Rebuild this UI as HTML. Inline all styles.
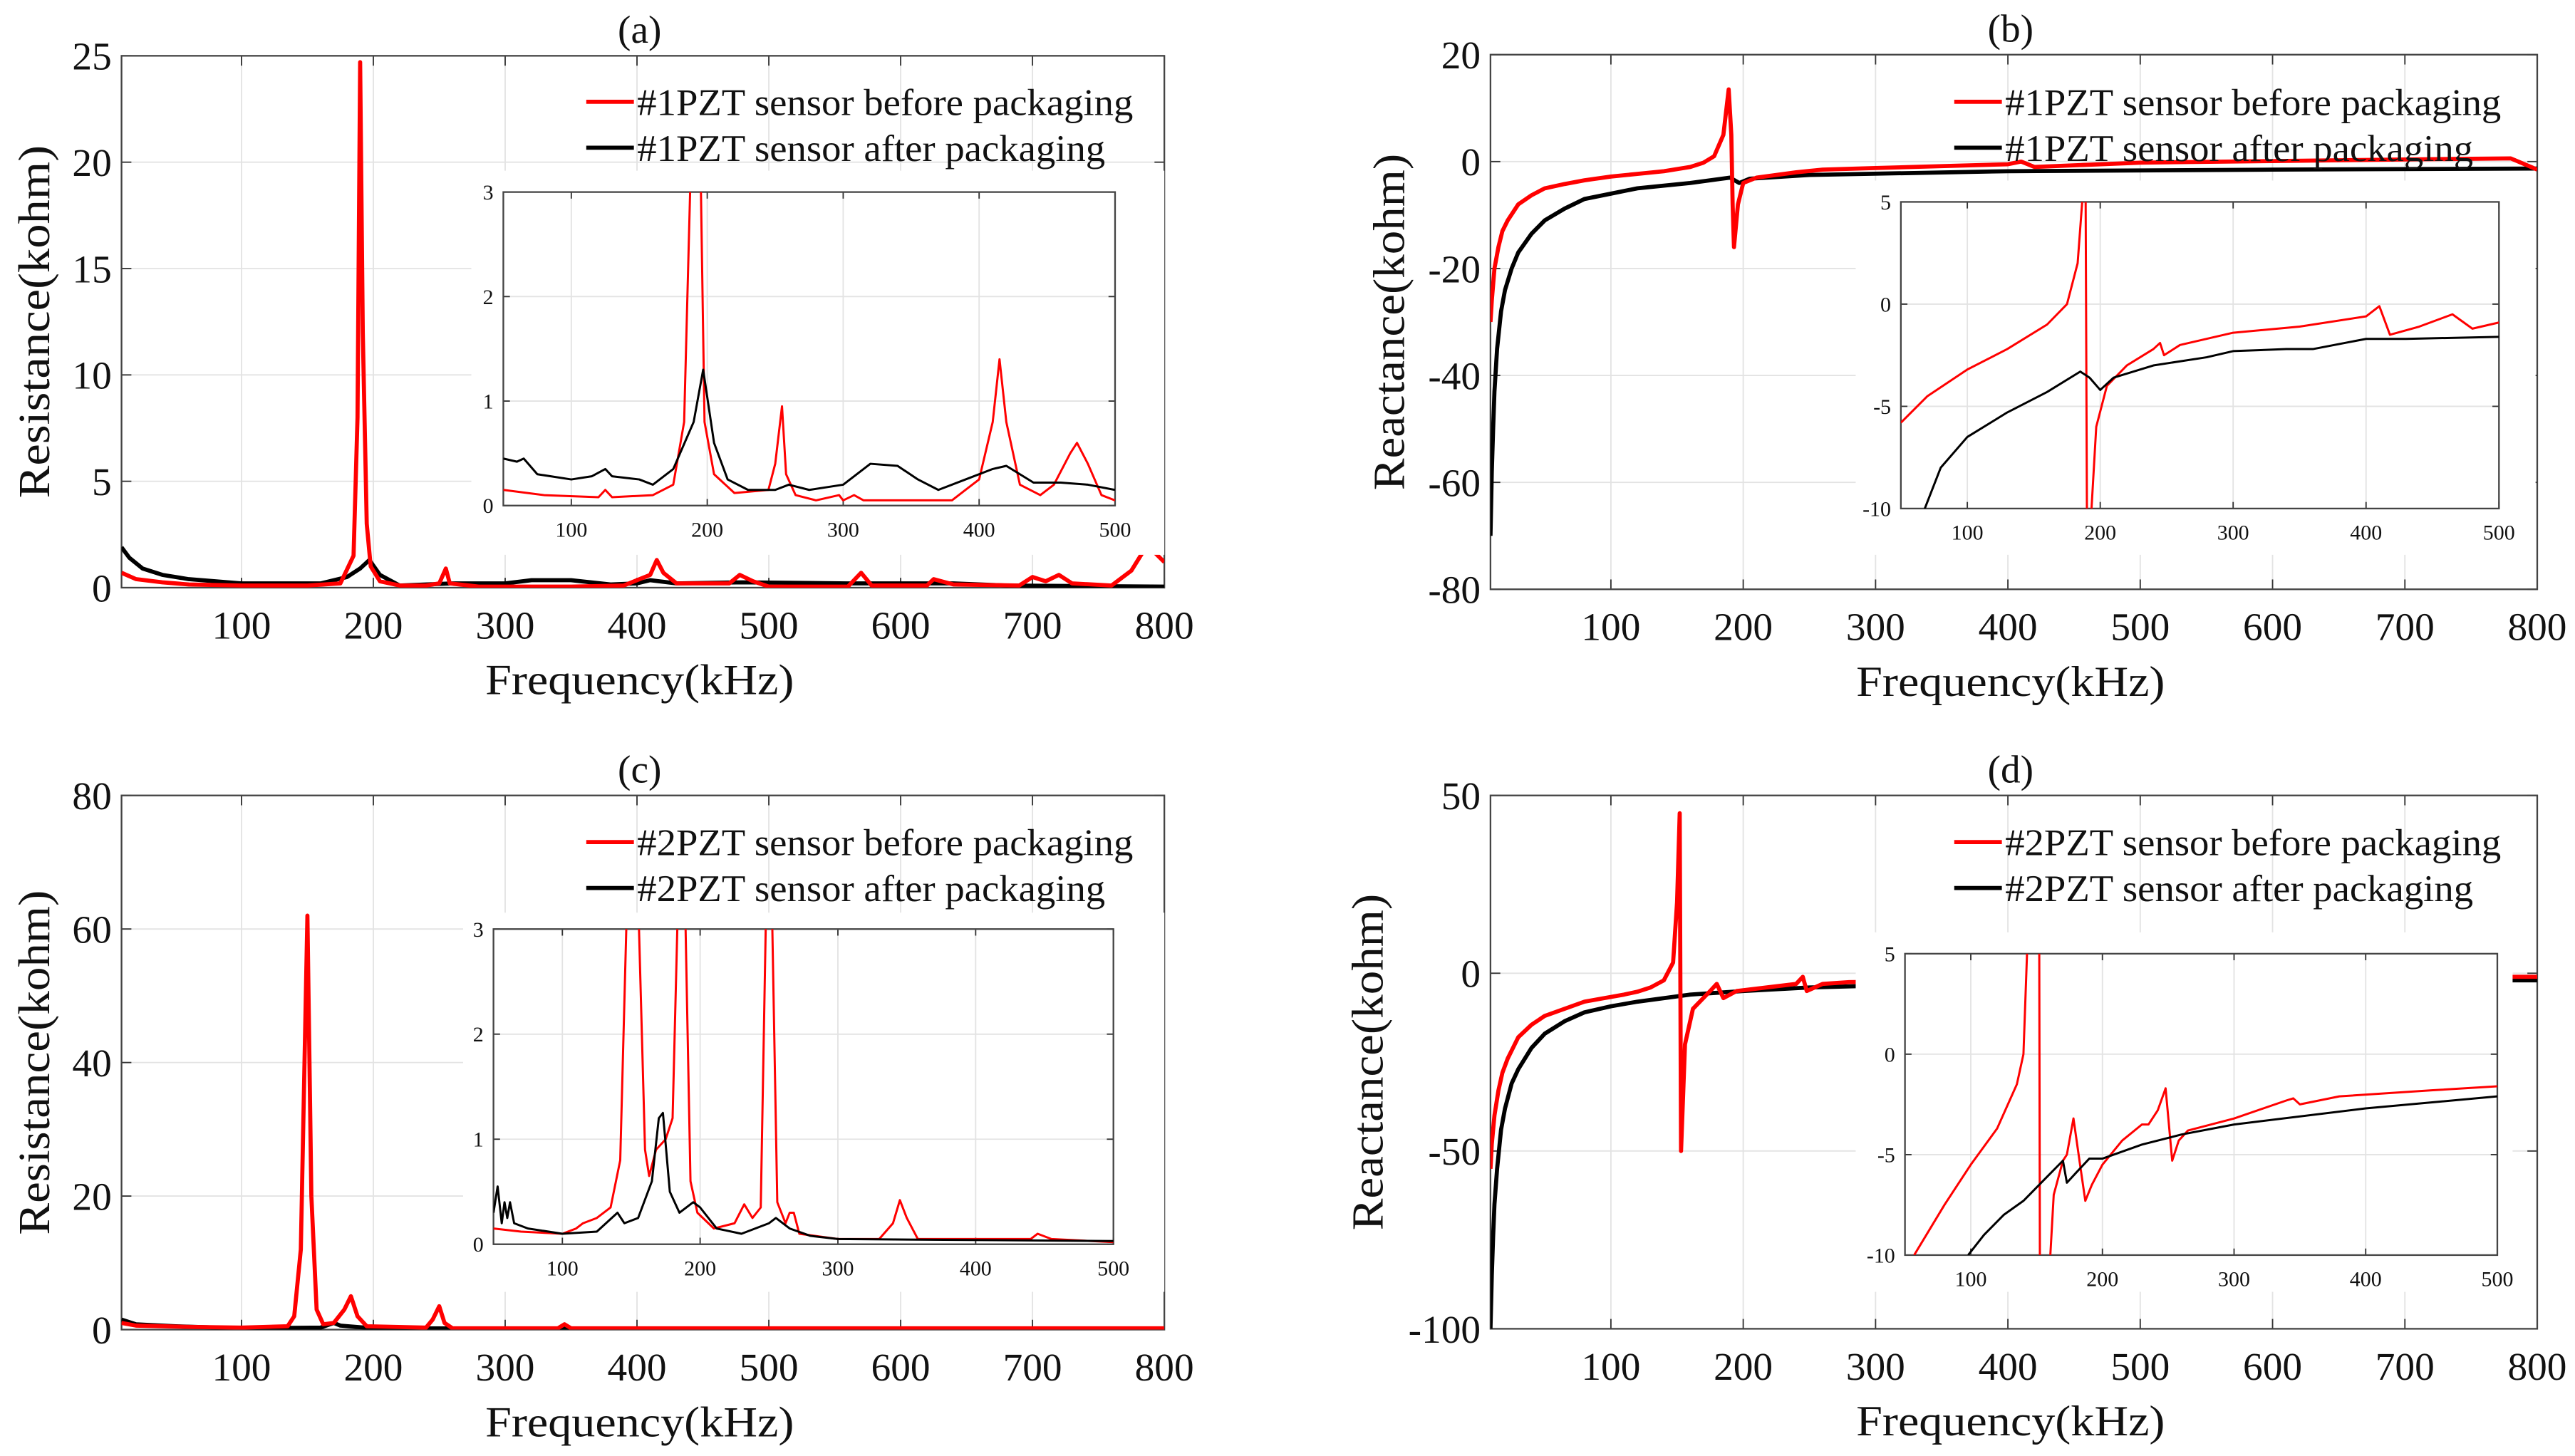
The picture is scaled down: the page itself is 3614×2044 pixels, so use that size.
<!DOCTYPE html>
<html><head><meta charset="utf-8"><title>PZT impedance</title>
<style>html,body{margin:0;padding:0;background:#fff;}svg{display:block;}</style></head>
<body>
<svg id="fig" xmlns="http://www.w3.org/2000/svg" width="3614" height="2044" viewBox="0 0 1568 887" preserveAspectRatio="none" font-family="Liberation Serif, serif">
<rect x="0" y="0" width="1568" height="887" fill="#fff"/>
</svg>
<script>
// ---------- DATA (frequency in kHz, values in kohm) ----------
const mainTicksX = [100,200,300,400,500,600,700,800];
const insetTicksX = [100,200,300,400,500];
const aTicksY = [0,5,10,15,20,25];
const bTicksY = [20,0,-20,-40,-60,-80];
const cTicksY = [0,20,40,60,80];
const dTicksY = [50,0,-50,-100];
const aInsetTicksY = [0,1,2,3];
const bInsetTicksY = [5,0,-5,-10];

// (a) resistance #1
const aRedF = [9,20,40,60,100,150,175,185,188,190,192,195,198,205,220,240,250,255,258,280,350,390,410,415,420,430,470,478,488,500,560,570,578,620,625,640,690,700,710,720,730,760,775,787,800];
const aRedV = [0.7,0.4,0.25,0.15,0.1,0.1,0.2,1.5,8,24.7,12,3,1,0.3,0.1,0.1,0.2,0.9,0.2,0.05,0.05,0.1,0.6,1.3,0.7,0.2,0.2,0.6,0.3,0.05,0.05,0.7,0.1,0.1,0.4,0.15,0.1,0.5,0.3,0.6,0.2,0.1,0.8,2.0,1.2];
const aBlkF = [9,15,25,40,60,80,100,130,160,180,190,197,205,220,260,300,320,350,380,400,410,430,480,560,600,640,680,800];
const aBlkV = [1.9,1.4,0.9,0.6,0.4,0.3,0.2,0.2,0.2,0.5,0.9,1.3,0.6,0.1,0.2,0.2,0.35,0.35,0.15,0.2,0.35,0.2,0.25,0.2,0.2,0.2,0.1,0.05];
const aInRedF = [50,80,120,125,130,160,175,183,188,195,198,205,220,245,250,255,258,265,280,297,300,308,315,380,390,400,410,415,420,430,445,455,467,472,480,490,500];
const aInRedV = [0.15,0.1,0.08,0.15,0.08,0.1,0.2,0.8,3.3,3.3,0.8,0.3,0.12,0.15,0.4,0.95,0.3,0.1,0.05,0.1,0.05,0.1,0.05,0.05,0.15,0.25,0.8,1.4,0.8,0.2,0.1,0.2,0.5,0.6,0.4,0.1,0.05];
const aInBlkF = [50,60,65,75,100,115,125,130,150,160,175,190,197,205,215,230,250,260,275,300,320,340,355,370,390,410,420,440,460,480,500];
const aInBlkV = [0.45,0.42,0.45,0.3,0.25,0.28,0.35,0.28,0.25,0.2,0.35,0.8,1.3,0.6,0.25,0.15,0.15,0.2,0.15,0.2,0.4,0.38,0.25,0.15,0.25,0.35,0.38,0.22,0.22,0.2,0.15];

// (b) reactance #1
const bRedF = [9,10,12,15,18,22,26,30,40,50,65,80,100,120,140,160,170,178,185,189,191,192,193,196,200,210,225,240,260,300,400,410,420,500,600,700,780,800];
const bRedV = [-30,-26,-20,-16,-13,-11,-9.5,-8,-6.3,-5,-4.2,-3.5,-2.8,-2.3,-1.8,-1,-0.2,1,5,13.5,5,-8,-16,-8,-4,-3,-2.5,-2,-1.5,-1.2,-0.5,0,-1,-0.2,0.1,0.4,0.6,-1.5];
const bBlkF = [9,10,11,12,14,17,20,25,30,40,50,65,80,100,120,140,160,190,197,205,250,400,600,800];
const bBlkV = [-70,-58,-50,-43,-35,-28,-24,-20,-17,-13.5,-11,-8.8,-7,-6,-5,-4.5,-4,-3,-4,-3.2,-2.5,-1.8,-1.5,-1.3];
const bInRedF = [50,70,100,130,160,175,183,187,189,190,193,197,205,220,240,245,248,260,300,350,400,410,418,440,465,480,500];
const bInRedV = [-5.8,-4.5,-3.2,-2.2,-1,0,2,5.5,5.5,-10.5,-10.5,-6,-4,-3,-2.2,-1.9,-2.5,-2,-1.4,-1.1,-0.6,-0.1,-1.5,-1.1,-0.5,-1.2,-0.9];
const bInBlkF = [65,80,100,130,160,185,192,200,210,240,280,300,340,360,400,430,500];
const bInBlkV = [-10.5,-8,-6.5,-5.3,-4.3,-3.3,-3.6,-4.2,-3.6,-3,-2.6,-2.3,-2.2,-2.2,-1.7,-1.7,-1.6];

// (c) resistance #2
const cRedF = [9,20,60,100,135,140,145,150,153,157,162,170,178,183,188,195,240,245,250,254,260,340,345,350,800];
const cRedV = [1,0.6,0.4,0.3,0.5,2,12,62,20,3,0.8,1,3,5,2,0.5,0.3,1.5,3.5,1,0.2,0.2,0.8,0.2,0.2];
const cBlkF = [9,20,50,100,160,170,175,200,800];
const cBlkV = [1.5,0.8,0.5,0.2,0.3,1,0.6,0.2,0];
const cInRedF = [50,70,100,110,115,125,135,142,147,155,160,163,168,175,180,184,189,193,198,210,225,232,238,244,248,252,256,262,265,268,272,300,330,340,345,350,358,440,445,455,500];
const cInRedV = [0.15,0.12,0.1,0.15,0.2,0.25,0.35,0.8,3.3,3.3,0.9,0.65,0.9,1.0,1.2,3.3,3.3,0.6,0.3,0.15,0.2,0.38,0.25,0.35,3.3,3.3,0.4,0.2,0.3,0.3,0.1,0.05,0.05,0.2,0.42,0.25,0.05,0.05,0.1,0.05,0.02];
const cInBlkF = [50,53,56,58,60,62,65,75,100,125,140,145,155,165,170,173,178,185,195,200,212,230,250,255,265,280,300,500];
const cInBlkV = [0.3,0.55,0.2,0.4,0.25,0.4,0.2,0.15,0.1,0.12,0.3,0.2,0.25,0.6,1.2,1.25,0.5,0.3,0.4,0.35,0.15,0.1,0.2,0.25,0.15,0.08,0.05,0.03];

// (d) reactance #2
const dRedF = [9,10,12,15,18,22,26,30,40,50,65,80,95,110,120,130,140,147,150,152,153,156,162,175,180,185,195,240,245,248,260,280,400,600,780,800];
const dRedV = [-55,-48,-40,-33,-28,-24,-21,-18,-14.5,-12,-10,-8,-7,-6,-5.2,-4,-2,3,20,45,-50,-20,-10,-5,-3,-7,-5,-3,-1,-5,-3,-2.5,-2,-1.5,-1,-1];
const dBlkF = [9,10,11,12,14,17,20,25,30,40,50,65,80,100,120,160,200,250,300,500,780,800];
const dBlkV = [-100,-85,-74,-65,-55,-44,-38,-31,-27,-21,-17,-13.5,-11,-9.3,-8,-6,-5,-4,-3.5,-2.5,-2,-2];
const dInRedF = [57,80,100,120,135,140,143,152,152.5,160,163,170,173,178,183,187,192,200,215,230,235,242,248,253,258,265,300,340,345,350,380,450,500];
const dInRedV = [-10,-7.5,-5.5,-3.7,-1.5,0,5.5,5.5,-10.5,-10.5,-7,-5.3,-5,-3.2,-5.5,-7.3,-6.5,-5.5,-4.3,-3.5,-3.5,-2.8,-1.7,-5.3,-4.3,-3.8,-3.2,-2.3,-2.2,-2.5,-2.1,-1.8,-1.6];
const dInBlkF = [98,110,125,140,155,170,173,180,190,200,230,260,300,400,500];
const dInBlkV = [-10,-9,-8,-7.3,-6.3,-5.3,-6.4,-5.9,-5.2,-5.2,-4.5,-4,-3.5,-2.7,-2.1];

// ---------- DRAWING ----------
const NS = 'http://www.w3.org/2000/svg';
const svg = document.getElementById('fig');
let clipId = 0;
function mk(tag, attrs, parent) {
  const e = document.createElementNS(NS, tag);
  for (const k in attrs) e.setAttribute(k, attrs[k]);
  (parent || svg).appendChild(e);
  return e;
}
function scale(d0, d1, r0, r1) { return v => r0 + (v - d0) / (d1 - d0) * (r1 - r0); }

function axes(box, xd, yd, xticks, yticks, opt, name) {
  const g = mk('g', {});
  
  
  const sx = scale(xd[0], xd[1], box.l, box.r);
  const sy = scale(yd[0], yd[1], box.b, box.t);
  if (opt.bg) mk('rect', {x: opt.bg[0], y: opt.bg[1], width: opt.bg[2]-opt.bg[0], height: opt.bg[3]-opt.bg[1], fill: '#fff'}, g);
  xticks.forEach(t => {
    const x = sx(t);
    mk('line', {x1: x, x2: x, y1: box.t, y2: box.b, stroke: '#e3e3e3', 'stroke-width': 0.8}, g);
    mk('line', {x1: x, x2: x, y1: box.b, y2: box.b - opt.tk, stroke: '#333', 'stroke-width': 0.8}, g);
    mk('line', {x1: x, x2: x, y1: box.t, y2: box.t + opt.tk, stroke: '#333', 'stroke-width': 0.8}, g);
    const tx = mk('text', {x: x, y: box.b + opt.xlOff, 'font-size': opt.fs, 'text-anchor': 'middle', fill: '#111'}, g);
    tx.textContent = t;
    
    
  });
  yticks.forEach(t => {
    const y = sy(t);
    mk('line', {x1: box.l, x2: box.r, y1: y, y2: y, stroke: '#e3e3e3', 'stroke-width': 0.8}, g);
    mk('line', {x1: box.l, x2: box.l + opt.tk, y1: y, y2: y, stroke: '#333', 'stroke-width': 0.8}, g);
    mk('line', {x1: box.r, x2: box.r - opt.tk, y1: y, y2: y, stroke: '#333', 'stroke-width': 0.8}, g);
    const tx = mk('text', {x: box.l - opt.ylOff, y: y + opt.fs * 0.35, 'font-size': opt.fs, 'text-anchor': 'end', fill: '#111'}, g);
    tx.textContent = t;
    
    
  });
  mk('rect', {x: box.l, y: box.t, width: box.r - box.l, height: box.b - box.t, fill: 'none', stroke: '#444', 'stroke-width': 1}, g);
  clipId++;
  const cp = mk('clipPath', {id: 'cp' + clipId}, g);
  mk('rect', {x: box.l, y: box.t, width: box.r - box.l, height: box.b - box.t}, cp);
  return {sx, sy, clip: 'url(#cp' + clipId + ')', g};
}
function series(ax, F, V, color, w, name) {
  let d = '';
  F.forEach((f, i) => { d += (i ? 'L' : 'M') + ax.sx(f).toFixed(2) + ' ' + ax.sy(V[i]).toFixed(2); });
  const p = mk('path', {d: d, fill: 'none', stroke: color, 'stroke-width': w, 'stroke-linejoin': 'round', 'clip-path': ax.clip});
  
  
}
function label(x, y, txt, fs, name, opts) {
  const a = Object.assign({x: x, y: y, 'font-size': fs, 'text-anchor': 'middle', fill: '#111'}, opts || {});
  const t = mk('text', a);
  t.textContent = txt;
  
  
  return t;
}
function legend(lx, y1, y2, t1, t2, name) {
  const g = mk('g', {});
  
  
  mk('line', {x1: lx, x2: lx + 29, y1: y1, y2: y1, stroke: '#f00', 'stroke-width': 2.5}, g);
  mk('line', {x1: lx, x2: lx + 29, y1: y2, y2: y2, stroke: '#000', 'stroke-width': 2.5}, g);
  const a = mk('text', {x: lx + 31, y: y1 + 8, 'font-size': 23, fill: '#111', textLength: 302, lengthAdjust: 'spacingAndGlyphs'}, g);
  a.textContent = t1;
  
  
  const b = mk('text', {x: lx + 31, y: y2 + 8, 'font-size': 23, fill: '#111', textLength: 285, lengthAdjust: 'spacingAndGlyphs'}, g);
  b.textContent = t2;
  
  
}
const mainOpt = {tk: 6, fs: 24, xlOff: 31, ylOff: 6};
const inOpt = {tk: 4, fs: 13, xlOff: 19, ylOff: 6};

function panel(p) {
  const m = axes(p.box, [9, 800], p.yd, mainTicksX, p.yticks, mainOpt, p.id + '-main-axes');
  series(m, p.blkF, p.blkV, '#000', 2.5, p.id + '-after-line');
  series(m, p.redF, p.redV, '#f00', 2.5, p.id + '-before-line');
  const io = Object.assign({}, inOpt, {bg: p.bg});
  const ia = axes(p.ibox, [50, 500], p.iyd, insetTicksX, p.iyticks, io, p.id + '-inset-axes');
  series(ia, p.iRedF, p.iRedV, '#f00', 1.3, p.id + '-inset-before-line');
  series(ia, p.iBlkF, p.iBlkV, '#000', 1.3, p.id + '-inset-after-line');
  const cx = (p.box.l + p.box.r) / 2 - 2;
  label(cx, p.box.t - 8, p.title, 24, p.id + '-title');
  label(cx, p.box.b + 65, 'Frequency(kHz)', 26, p.id + '-x-axis-title', {textLength: 188, lengthAdjust: 'spacingAndGlyphs'});
  const yc = (p.box.t + p.box.b) / 2;
  label(p.ylx, yc, p.ylab, 27, p.id + '-y-axis-title', {transform: 'rotate(-90 ' + p.ylx + ' ' + yc + ')', textLength: p.ylen, lengthAdjust: 'spacingAndGlyphs'});
  legend(p.lx, p.ly1, p.ly1 + 28, p.l1, p.l2, p.id + '-legend');
}

panel({id: 'a', title: '(a)', box: {l: 74, r: 709, t: 34, b: 358}, yd: [0, 25], yticks: aTicksY,
  redF: aRedF, redV: aRedV, blkF: aBlkF, blkV: aBlkV,
  bg: [287, 104, 709, 338], ibox: {l: 306.5, r: 679, t: 117, b: 308}, iyd: [0, 3], iyticks: aInsetTicksY,
  iRedF: aInRedF, iRedV: aInRedV, iBlkF: aInBlkF, iBlkV: aInBlkV,
  ylx: 30, ylab: 'Resistance(kohm)', ylen: 215, lx: 357, ly1: 62,
  l1: '#1PZT sensor before packaging', l2: '#1PZT sensor after packaging'});
panel({id: 'b', title: '(b)', box: {l: 907.6, r: 1545, t: 33.3, b: 359}, yd: [-80, 20], yticks: bTicksY,
  redF: bRedF, redV: bRedV, blkF: bBlkF, blkV: bBlkV,
  bg: [1130, 110, 1544, 338], ibox: {l: 1157.5, r: 1521.7, t: 123, b: 309.8}, iyd: [-10, 5], iyticks: bInsetTicksY,
  iRedF: bInRedF, iRedV: bInRedV, iBlkF: bInBlkF, iBlkV: bInBlkV,
  ylx: 855, ylab: 'Reactance(kohm)', ylen: 205, lx: 1190, ly1: 62,
  l1: '#1PZT sensor before packaging', l2: '#1PZT sensor after packaging'});
panel({id: 'c', title: '(c)', box: {l: 74, r: 709, t: 484.6, b: 810}, yd: [0, 80], yticks: cTicksY,
  redF: cRedF, redV: cRedV, blkF: cBlkF, blkV: cBlkV,
  bg: [282, 556, 709, 787], ibox: {l: 300.5, r: 678, t: 566, b: 758}, iyd: [0, 3], iyticks: aInsetTicksY,
  iRedF: cInRedF, iRedV: cInRedV, iBlkF: cInBlkF, iBlkV: cInBlkV,
  ylx: 30, ylab: 'Resistance(kohm)', ylen: 210, lx: 357, ly1: 513,
  l1: '#2PZT sensor before packaging', l2: '#2PZT sensor after packaging'});
panel({id: 'd', title: '(d)', box: {l: 907.6, r: 1545, t: 484.6, b: 809.5}, yd: [-100, 50], yticks: dTicksY,
  redF: dRedF, redV: dRedV, blkF: dBlkF, blkV: dBlkV,
  bg: [1130, 568, 1530, 787], ibox: {l: 1160, r: 1520.7, t: 581, b: 764.6}, iyd: [-10, 5], iyticks: bInsetTicksY,
  iRedF: dInRedF, iRedV: dInRedV, iBlkF: dInBlkF, iBlkV: dInBlkV,
  ylx: 842, ylab: 'Reactance(kohm)', ylen: 205, lx: 1190, ly1: 513,
  l1: '#2PZT sensor before packaging', l2: '#2PZT sensor after packaging'});
</script>
</body></html>
